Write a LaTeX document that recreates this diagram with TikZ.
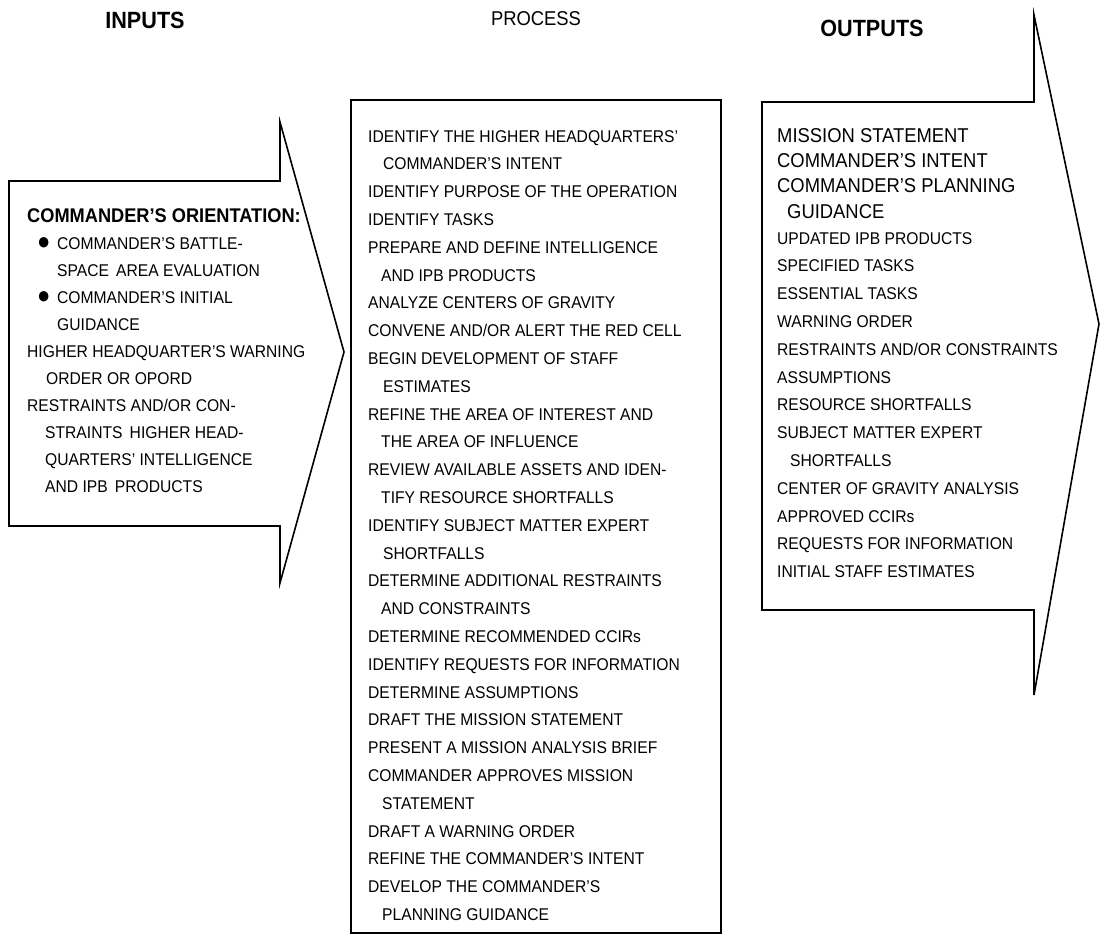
\documentclass[tikz,border=0pt]{standalone}
\usepackage{fontspec}
\setmainfont{Liberation Sans}[FakeStretch=0.92]
\usepackage{tikz}

\newcommand{\blt}{\makebox[30pt][l]{\hspace*{10pt}\raisebox{-0.5pt}{\fontsize{24}{24}\selectfont ●}}}

\begin{document}
\begin{tikzpicture}[x=1pt, y=-1pt,
		hdr/.style={inner sep=0pt, font=\bfseries\fontsize{23.5}{24}\selectfont},
		txt/.style={inner sep=0pt, anchor=north west, align=left, font=\fontsize{17}{27.8}\selectfont},
		big/.style={inner sep=0pt, anchor=north west, align=left, font=\fontsize{20}{25.3}\selectfont}]
			\useasboundingbox (0, 0) rectangle (1101, 936);
			
			% input arrow
			\coordinate (a0) at (9, 181);
			\coordinate (a1) at (280, 181);
			\coordinate (a2) at (280, 122);
			\coordinate (a3) at (344, 352);
			\coordinate (a4) at (280, 583);
			\coordinate (a5) at (280, 526);
			\coordinate (a6) at (9, 526);
			
			% output arrow
			\coordinate (b0) at (762, 102);
			\coordinate (b1) at (1034, 102);
			\coordinate (b2) at (1034, 15);
			\coordinate (b3) at (1099, 324);
			\coordinate (b4) at (1034, 695);
			\coordinate (b5) at (1034, 610);
			\coordinate (b6) at (762, 610);
			
			\draw[line width=1.6pt, line join=miter] (a0) -- (a1) -- (a2) -- (a3) -- (a4) -- (a5) -- (a6) -- cycle;
			\draw[line width=1.6pt, line join=miter] (b0) -- (b1) -- (b2) -- (b3) -- (b4) -- (b5) -- (b6) -- cycle;
			\draw[line width=2.6pt] (351, 100) rectangle (721, 933);
			
			\node[hdr] (inp) at (145, 20) {INPUTS};
			\node[hdr, font=\fontsize{20}{24}\selectfont] (proc) at (536, 19) {PROCESS};
			\node[hdr] (outp) at (872, 28) {OUTPUTS};
			
			\node[txt, font=\bfseries\fontsize{19.8}{24}\selectfont] (orient) at (27, 208) {COMMANDER'S ORIENTATION:};
			\node[txt, font=\fontsize{17}{27}\selectfont] (inlist) at (27, 237) {\blt COMMANDER'S BATTLE-\\
				\hspace*{30pt}SPACE\, AREA EVALUATION\\
				\blt COMMANDER'S INITIAL\\
				\hspace*{30pt}GUIDANCE\\
				HIGHER HEADQUARTER'S WARNING\\
				\hspace*{19pt}ORDER OR OPORD\\
				RESTRAINTS AND/OR CON-\\
				\hspace*{18pt}STRAINTS\, HIGHER HEAD-\\
				\hspace*{18pt}QUARTERS' INTELLIGENCE\\
				\hspace*{18pt}AND IPB\, PRODUCTS};
			
			\node[txt] (steps) at (368, 130) {IDENTIFY THE HIGHER HEADQUARTERS'\\
				\hspace*{15pt}COMMANDER'S INTENT\\
				IDENTIFY PURPOSE OF THE OPERATION\\
				IDENTIFY TASKS\\
				PREPARE AND DEFINE INTELLIGENCE\\
				\hspace*{13pt}AND IPB PRODUCTS\\
				ANALYZE CENTERS OF GRAVITY\\
				CONVENE AND/OR ALERT THE RED CELL\\
				BEGIN DEVELOPMENT OF STAFF\\
				\hspace*{15pt}ESTIMATES\\
				REFINE THE AREA OF INTEREST AND\\
				\hspace*{13pt}THE AREA OF INFLUENCE\\
				REVIEW AVAILABLE ASSETS AND IDEN-\\
				\hspace*{13pt}TIFY RESOURCE SHORTFALLS\\
				IDENTIFY SUBJECT MATTER EXPERT\\
				\hspace*{15pt}SHORTFALLS\\
				DETERMINE ADDITIONAL RESTRAINTS\\
				\hspace*{13pt}AND CONSTRAINTS\\
				DETERMINE RECOMMENDED CCIRs\\
				IDENTIFY REQUESTS FOR INFORMATION\\
				DETERMINE ASSUMPTIONS\\
				DRAFT THE MISSION STATEMENT\\
				PRESENT A MISSION ANALYSIS BRIEF\\
				COMMANDER APPROVES MISSION\\
				\hspace*{14pt}STATEMENT\\
				DRAFT A WARNING ORDER\\
				REFINE THE COMMANDER'S INTENT\\
				DEVELOP THE COMMANDER'S\\
				\hspace*{14pt}PLANNING GUIDANCE};
			
			\node[big] (mission) at (777, 128) {MISSION STATEMENT\\
				COMMANDER'S INTENT\\
				COMMANDER'S PLANNING\\
				\hspace*{10pt}GUIDANCE};
			\node[txt] (outlist) at (777, 232) {UPDATED IPB PRODUCTS\\
				SPECIFIED TASKS\\
				ESSENTIAL TASKS\\
				WARNING ORDER\\
				RESTRAINTS AND/OR CONSTRAINTS\\
				ASSUMPTIONS\\
				RESOURCE SHORTFALLS\\
				SUBJECT MATTER EXPERT\\
				\hspace*{13pt}SHORTFALLS\\
				CENTER OF GRAVITY ANALYSIS\\
				APPROVED CCIRs\\
				REQUESTS FOR INFORMATION\\
				INITIAL STAFF ESTIMATES};
		\end{tikzpicture}
\end{document}
